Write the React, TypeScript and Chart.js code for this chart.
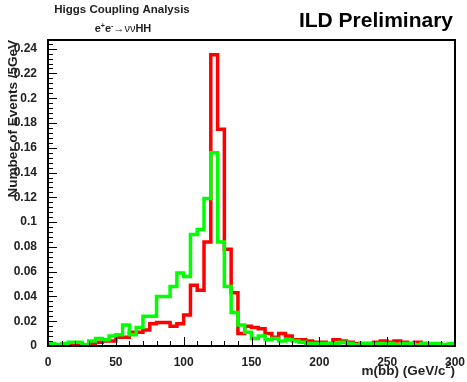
import React, { useEffect, useRef } from "react";
import { Chart, registerables } from "chart.js";

Chart.register(...registerables);

const BIN_WIDTH = 5;
const X_MIN = 0;
const X_MAX = 300;
const Y_MAX = 0.247;
const yTickValues = [0, 0.02, 0.04, 0.06, 0.08, 0.1, 0.12, 0.14, 0.16, 0.18, 0.2, 0.22, 0.24];
const xTickValues = [0, 50, 100, 150, 200, 250, 300];

const redValues = [
  0.001, 0.0, 0.001, 0.001, 0.002, 0.001, 0.002, 0.003, 0.004, 0.004,
  0.007, 0.007, 0.011, 0.011, 0.013, 0.018, 0.019, 0.019, 0.016, 0.018,
  0.025, 0.049, 0.045, 0.084, 0.235, 0.175, 0.078, 0.043, 0.01, 0.016,
  0.015, 0.014, 0.01, 0.007, 0.01, 0.008, 0.005, 0.005, 0.004, 0.003,
  0.003, 0.002, 0.005, 0.004, 0.003, 0.002, 0.002, 0.002, 0.003, 0.004,
  0.003, 0.004, 0.003, 0.002, 0.003, 0.002, 0.001, 0.001, 0.001, 0.0,
];

const greenValues = [
  0.002, 0.001, 0.002, 0.003, 0.003, 0.001, 0.004, 0.006, 0.005, 0.008,
  0.009, 0.017, 0.009, 0.015, 0.024, 0.024, 0.04, 0.04, 0.048, 0.059,
  0.056, 0.09, 0.094, 0.119, 0.156, 0.084, 0.048, 0.027, 0.017, 0.011,
  0.006, 0.008, 0.005, 0.006, 0.004, 0.005, 0.004, 0.003, 0.002, 0.002,
  0.002, 0.002, 0.002, 0.003, 0.002, 0.001, 0.002, 0.002, 0.002, 0.002,
  0.002, 0.001, 0.002, 0.002, 0.001, 0.002, 0.002, 0.002, 0.001, 0.002,
];

function toSteps(values: number[]) {
  const pts = values.map((v, i) => ({ x: X_MIN + i * BIN_WIDTH, y: v }));
  pts.push({ x: X_MIN + values.length * BIN_WIDTH, y: values[values.length - 1] });
  return pts;
}

const FONT = "'Liberation Sans', Arial, Helvetica, sans-serif";

const decorPlugin = {
  id: "decor",
  afterDraw(chart: any) {
    const ctx = chart.ctx as CanvasRenderingContext2D;
    const { left, right, top, bottom } = chart.chartArea;
    const xs = chart.scales.x;
    const ys = chart.scales.y;
    ctx.save();
    ctx.strokeStyle = "#000";
    ctx.lineWidth = 1;
    // y ticks (inside)
    for (let v = 0; v <= Y_MAX + 1e-9; v += 0.004) {
      const p = Math.round(ys.getPixelForValue(v)) + 0.5;
      const major = Math.abs(v / 0.02 - Math.round(v / 0.02)) < 1e-6;
      ctx.beginPath();
      ctx.moveTo(left, p);
      ctx.lineTo(left + (major ? 9 : 5), p);
      ctx.stroke();
    }
    // x ticks (inside)
    for (let v = X_MIN; v <= X_MAX; v += 10) {
      const p = Math.round(xs.getPixelForValue(v)) + 0.5;
      const major = v % 50 === 0;
      ctx.beginPath();
      ctx.moveTo(p, bottom);
      ctx.lineTo(p, bottom - (major ? 9 : 5));
      ctx.stroke();
    }
    // frame
    ctx.lineWidth = 2;
    ctx.strokeRect(left, top, right - left, bottom - top);

    // titles
    ctx.fillStyle = "#222";
    ctx.textBaseline = "middle";
    ctx.font = `bold 11.5px ${FONT}`;
    ctx.textAlign = "center";
    ctx.fillText("Higgs Coupling Analysis", 122, 10);

    // e+e- -> vv HH
    const parts: { t: string; f: string; dy: number }[] = [
      { t: "e", f: `bold 11px ${FONT}`, dy: 0 },
      { t: "+", f: `bold 7px ${FONT}`, dy: -3 },
      { t: "e", f: `bold 11px ${FONT}`, dy: 0 },
      { t: "-", f: `bold 7px ${FONT}`, dy: -3 },
      { t: "\u2192\u03bd\u03bd", f: `11px ${FONT}`, dy: 0 },
      { t: "HH", f: `bold 11px ${FONT}`, dy: 0 },
    ];
    let total = 0;
    for (const p of parts) {
      ctx.font = p.f;
      total += ctx.measureText(p.t).width;
    }
    let cx = 123 - total / 2;
    ctx.textAlign = "left";
    for (const p of parts) {
      ctx.font = p.f;
      ctx.fillText(p.t, cx, 29 + p.dy);
      cx += ctx.measureText(p.t).width;
    }

    ctx.fillStyle = "#000";
    ctx.font = `bold 21px ${FONT}`;
    ctx.textAlign = "right";
    ctx.fillText("ILD Preliminary", 453, 21);

    // x title
    ctx.fillStyle = "#222";
    ctx.textAlign = "right";
    ctx.font = `bold 9px ${FONT}`;
    const supW = ctx.measureText("2").width;
    ctx.font = `bold 13.5px ${FONT}`;
    const closeW = ctx.measureText(")").width;
    ctx.fillText(")", right, 371);
    ctx.font = `bold 9px ${FONT}`;
    ctx.fillText("2", right - closeW, 366);
    ctx.font = `bold 13.5px ${FONT}`;
    ctx.fillText("m(bb) (GeV/c", right - closeW - supW, 371);

    // y title
    ctx.save();
    ctx.translate(13, top);
    ctx.rotate(-Math.PI / 2);
    ctx.textAlign = "right";
    ctx.font = `bold 13.5px ${FONT}`;
    ctx.fillText("Number of Events /5GeV", 0, 0);
    ctx.restore();

    ctx.restore();
  },
};

export default function App() {
  const ref = useRef<HTMLCanvasElement | null>(null);
  useEffect(() => {
    document.body.style.margin = "0";
    document.body.style.background = "#fff";
    const canvas = ref.current!;
    const chart = new Chart(canvas, {
      type: "line",
      data: {
        datasets: [
          {
            label: "green",
            data: toSteps(greenValues),
            borderColor: "#00ff00",
            borderWidth: 3.5,
            pointRadius: 0,
            stepped: true,
            fill: false,
          },
          {
            label: "red",
            data: toSteps(redValues),
            borderColor: "#ff0000",
            borderWidth: 3.5,
            pointRadius: 0,
            stepped: true,
            fill: false,
          },
        ],
      },
      options: {
        responsive: false,
        animation: false,
        events: [],
        layout: { padding: { left: 0, top: 40, right: 12, bottom: 0 } },
        plugins: { legend: { display: false }, tooltip: { enabled: false } },
        scales: {
          x: {
            type: "linear",
            min: X_MIN,
            max: X_MAX,
            grid: { display: false },
            border: { display: false },
            afterFit(scale: any) {
              scale.height = 36;
            },
            afterBuildTicks(scale: any) {
              scale.ticks = xTickValues.map((v) => ({ value: v }));
            },
            ticks: {
              padding: 1,
              color: "#222",
              font: { family: FONT, size: 12, weight: "bold" },
              maxRotation: 0,
              autoSkip: false,
              callback: (v: any) => String(v),
            },
          },
          y: {
            type: "linear",
            min: 0,
            max: Y_MAX,
            grid: { display: false },
            border: { display: false },
            afterFit(scale: any) {
              scale.width = 48;
            },
            afterBuildTicks(scale: any) {
              scale.ticks = yTickValues.map((v) => ({ value: v }));
            },
            ticks: {
              padding: 3,
              color: "#222",
              font: { family: FONT, size: 12, weight: "bold" },
              autoSkip: false,
              callback: (v: any) => String(Number(Number(v).toFixed(2))),
            },
          },
        },
      },
      plugins: [decorPlugin],
    });
    return () => chart.destroy();
  }, []);
  return <canvas ref={ref} width={467} height={382} style={{ display: "block" }} />;
}
